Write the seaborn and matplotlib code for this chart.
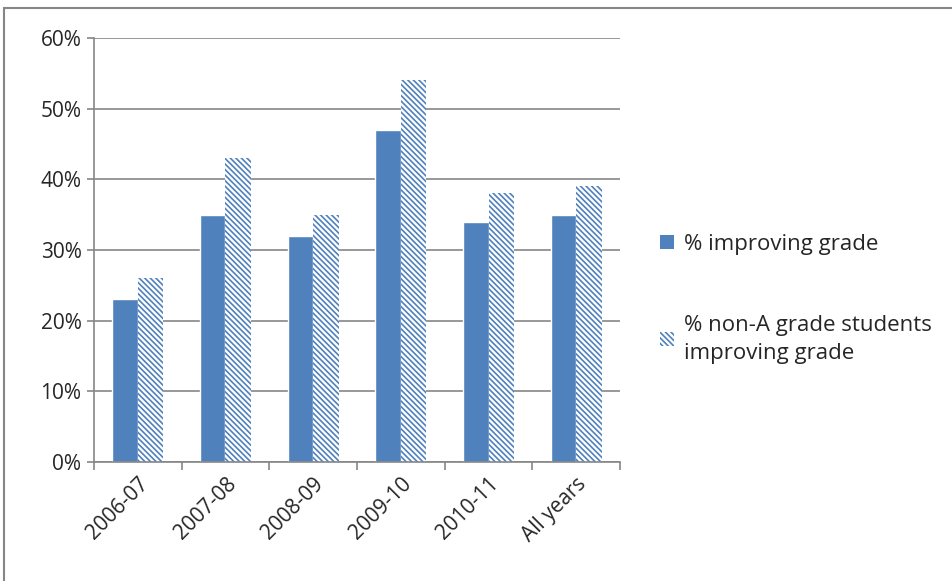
import pandas as pd
import matplotlib.pyplot as plt
import seaborn as sns
from matplotlib.patches import Rectangle, Patch

# data
years = ["2006-07", "2007-08", "2008-09", "2009-10", "2010-11", "All years"]
improving = [23, 35, 32, 47, 34, 35]
non_a_improving = [26, 43, 35, 54, 38, 39]
series_names = ["% improving grade", "% non-A grade students\nimproving grade"]

df = pd.DataFrame({
    "Year": years * 2,
    "Value": improving + non_a_improving,
    "Series": [series_names[0]] * len(years) + [series_names[1]] * len(years),
})

sns.set_style("white")
plt.rcParams['font.family'] = ['Open Sans', 'DejaVu Sans']
plt.rcParams['hatch.linewidth'] = 1.2

blue = "#4F81BD"
grey = "#868686"

fig = plt.figure(figsize=(9.53, 5.81), dpi=100)
ax = fig.add_axes([0.0986, 0.2048, 0.5520, 0.7298])

sns.barplot(data=df, x="Year", y="Value", hue="Series", palette=[blue, blue],
            width=0.58, ax=ax, legend=False, saturation=1)

# second series: white with blue diagonal hatch
for bar in ax.containers[1]:
    bar.set_facecolor("white")
    bar.set_edgecolor(blue)
    bar.set_hatch("\\\\\\\\\\\\")
    bar.set_linewidth(0)

ax.set_ylim(0, 60)
ax.set_xlim(-0.5, len(years) - 0.5)
ax.set_yticks(range(0, 61, 10))
ax.set_yticklabels([f"{v}%" for v in range(0, 61, 10)], fontsize=15)
ax.set_xticks(range(len(years)))
ax.set_xticklabels(years, rotation=45, ha="right", rotation_mode="anchor", fontsize=15)
ax.set_xlabel("")
ax.set_ylabel("")

ax.yaxis.grid(True, color=grey, linewidth=1.2)
ax.set_axisbelow(True)
for side in ["top", "right"]:
    ax.spines[side].set_visible(False)
for side in ["left", "bottom"]:
    ax.spines[side].set_color(grey)
    ax.spines[side].set_linewidth(1.2)

# y ticks outward; x ticks between categories
ax.tick_params(axis="y", which="major", direction="out", length=5, color=grey, width=1.2, left=True, pad=4)
ax.tick_params(axis="x", which="major", length=0, pad=8)
ax.set_xticks([i + 0.5 for i in range(-1, len(years))], minor=True)
ax.tick_params(axis="x", which="minor", direction="out", length=6, color=grey, width=1.2, bottom=True)

handles = [Patch(facecolor=blue, edgecolor=blue, linewidth=0),
           Patch(facecolor="white", edgecolor=blue, hatch="\\\\\\\\\\\\", linewidth=0)]
leg = fig.legend(handles, series_names, loc="center left", bbox_to_anchor=(0.672, 0.486),
                 frameon=False, fontsize=16, handlelength=0.6, handleheight=0.6,
                 labelspacing=2.7, handletextpad=0.45)
for t in leg.get_texts():
    t.set_linespacing(1.45)

# outer chart border
fig.patches.append(Rectangle((0.0042, -0.1), 1.2, 1.086, transform=fig.transFigure,
                             fill=False, edgecolor=grey, linewidth=1.5, clip_on=False))

fig.savefig("out.png", dpi=100)
